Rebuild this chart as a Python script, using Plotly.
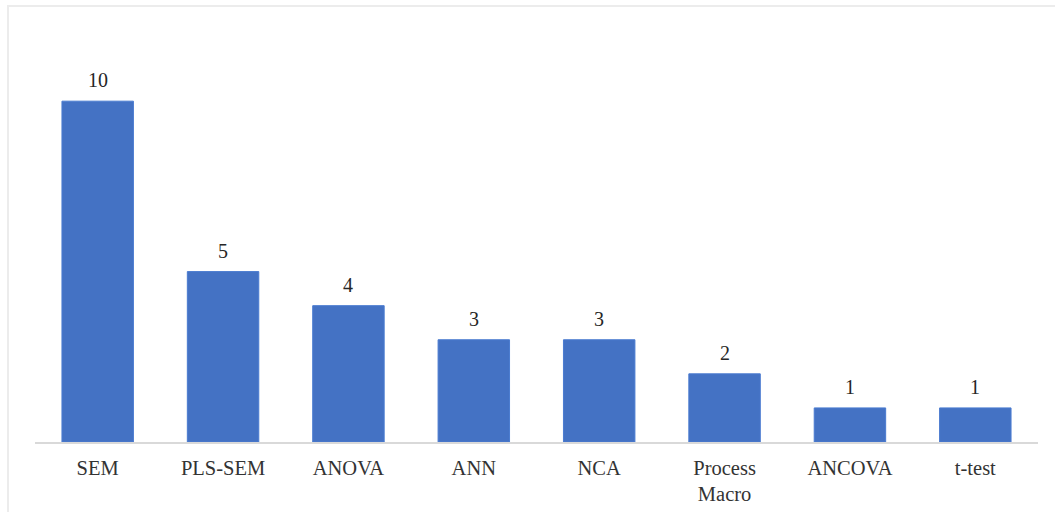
import plotly.graph_objects as go

categories = ["SEM", "PLS-SEM", "ANOVA", "ANN", "NCA", "Process<br>Macro", "ANCOVA", "t-test"]
values = [10, 5, 4, 3, 3, 2, 1, 1]

FONT = "Liberation Serif, Times New Roman, serif"

fig = go.Figure()
fig.add_trace(go.Bar(
    x=list(range(len(categories))),
    y=values,
    marker=dict(color="#4472C4", line=dict(color="#4a7bd0", width=1)),
    width=0.57,
    hoverinfo="skip",
))

for i, v in enumerate(values):
    fig.add_annotation(x=i, y=v, text=str(v), showarrow=False,
                       yanchor="bottom", yshift=8,
                       font=dict(family=FONT, size=20, color="#262626"))

fig.update_layout(
    width=1055, height=512,
    margin=dict(l=35, r=17, t=33, b=70),
    paper_bgcolor="white", plot_bgcolor="white",
    showlegend=False,
    font=dict(family=FONT, size=20, color="#333333"),
    xaxis=dict(
        range=[-0.5, 7.5],
        tickmode="array",
        tickvals=list(range(len(categories))),
        ticktext=categories,
        showgrid=False, zeroline=False,
        showline=True, linecolor="#d9d9d9", linewidth=2,
        ticks="", ticklabelstandoff=6,
        automargin=False,
        tickfont=dict(family=FONT, size=20.5, color="#333333"),
        fixedrange=True,
    ),
    yaxis=dict(
        range=[0, 12], visible=False, showgrid=False, zeroline=False,
        automargin=False, fixedrange=True,
    ),
    shapes=[dict(
        type="rect", xref="paper", yref="paper",
        x0=-27/1003, x1=1.1, y0=-0.3, y1=(512-6-70)/409,
        line=dict(color="#ececec", width=2), fillcolor="rgba(0,0,0,0)",
        layer="below",
    )],
)

fig.write_html("out.html")
